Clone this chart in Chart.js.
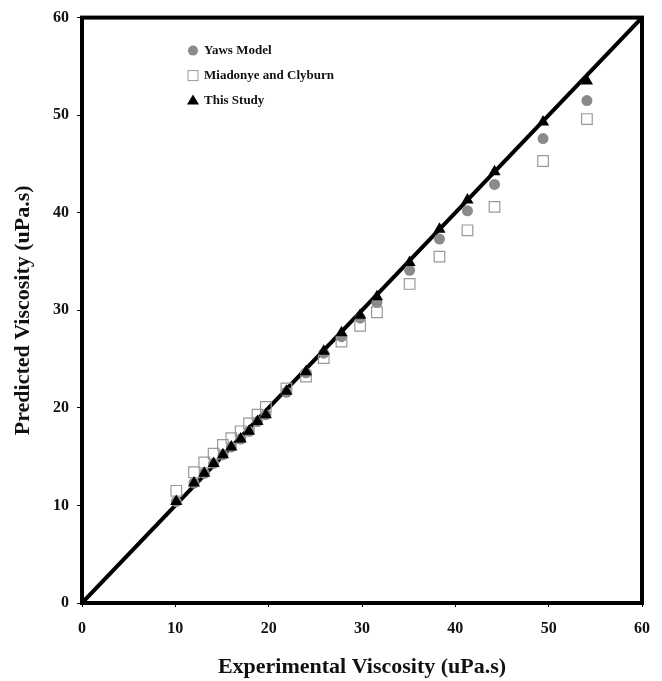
<!DOCTYPE html>
<html>
<head>
<meta charset="utf-8">
<script src="https://cdn.jsdelivr.net/npm/chart.js@4.4.1/dist/chart.umd.min.js"></script>
<style>
  html, body { margin: 0; padding: 0; background: #fff; }
  #wrap { width: 662px; height: 681px; position: relative; }
</style>
</head>
<body>
<div id="wrap"><canvas id="chart"></canvas></div>
<script>
// experimental viscosity (x) shared by all three models
const experimental = [10.1, 12.0, 13.1, 14.1, 15.1, 16.0, 17.0, 17.9, 18.8, 19.7, 21.9, 24.0, 25.9, 27.8, 29.8, 31.6, 35.1, 38.3, 41.3, 44.2, 49.4, 54.1];
const yawsModel = [10.4, 12.3, 13.3, 14.3, 15.2, 16.0, 16.8, 17.6, 18.6, 19.3, 21.6, 23.6, 25.6, 27.3, 29.2, 30.8, 34.1, 37.3, 40.2, 42.9, 47.6, 51.5];
const miadonyeClyburn = [11.5, 13.4, 14.4, 15.3, 16.2, 16.9, 17.6, 18.4, 19.3, 20.1, 22.0, 23.2, 25.1, 26.8, 28.4, 29.8, 32.7, 35.5, 38.2, 40.6, 45.3, 49.6];
const thisStudy = [10.4, 12.3, 13.3, 14.3, 15.2, 16.0, 16.8, 17.6, 18.6, 19.3, 21.7, 23.7, 25.8, 27.7, 29.5, 31.4, 34.9, 38.3, 41.3, 44.2, 49.3, 53.5];
const parityLine = [0, 60];
const axisMin = 0, axisMax = 60, axisStep = 10;

const serif = '"Liberation Serif", "Times New Roman", serif';
const toPoints = ys => experimental.map((x, i) => ({ x, y: ys[i] }));

// frame around plot area + legend drawn inside it
const framePlugin = {
  id: 'frame',
  afterDatasetsDraw(chart) {
    const { ctx, chartArea: a } = chart;
    ctx.save();
    ctx.lineWidth = 4;
    ctx.strokeStyle = '#000';
    ctx.strokeRect(a.left, a.top, a.right - a.left, a.bottom - a.top);
    ctx.restore();
  },
  afterDraw(chart) {
    const { ctx, chartArea: a } = chart;
    const mx = a.left + 111, tx = a.left + 122;
    const rows = [a.top + 33, a.top + 58, a.top + 83];
    ctx.save();
    // circle
    ctx.fillStyle = '#8a8a8a';
    ctx.beginPath();
    ctx.arc(mx, rows[0], 5, 0, Math.PI * 2);
    ctx.fill();
    // square
    ctx.strokeStyle = '#999';
    ctx.lineWidth = 1;
    ctx.strokeRect(mx - 5, rows[1] - 5, 10, 10);
    // triangle
    ctx.fillStyle = '#000';
    ctx.beginPath();
    ctx.moveTo(mx, rows[2] - 6);
    ctx.lineTo(mx + 6, rows[2] + 4);
    ctx.lineTo(mx - 6, rows[2] + 4);
    ctx.closePath();
    ctx.fill();
    ctx.fillStyle = '#111';
    ctx.font = 'bold 13px ' + serif;
    ctx.textBaseline = 'middle';
    ctx.fillText('Yaws Model', tx, rows[0]);
    ctx.fillText('Miadonye and Clyburn', tx, rows[1]);
    ctx.fillText('This Study', tx, rows[2]);
    ctx.restore();
  }
};

new Chart(document.getElementById('chart'), {
  type: 'scatter',
  data: {
    datasets: [
      {
        label: 'Parity',
        type: 'line',
        data: parityLine.map(v => ({ x: v, y: v })),
        borderColor: '#000',
        borderWidth: 4,
        pointRadius: 0,
        fill: false,
        order: 4,
      },
      {
        label: 'Yaws Model',
        data: toPoints(yawsModel),
        pointStyle: 'circle',
        pointRadius: 5.5,
        backgroundColor: '#8a8a8a',
        borderColor: '#8a8a8a',
        borderWidth: 0,
        order: 3,
      },
      {
        label: 'Miadonye and Clyburn',
        data: toPoints(miadonyeClyburn),
        pointStyle: 'rect',
        pointRadius: 7.5,
        backgroundColor: 'rgba(255,255,255,0)',
        borderColor: '#999',
        borderWidth: 1.2,
        order: 2,
      },
      {
        label: 'This Study',
        data: toPoints(thisStudy),
        pointStyle: 'triangle',
        pointRadius: 7,
        backgroundColor: '#000',
        borderColor: '#000',
        borderWidth: 0,
        order: 1,
      },
    ],
  },
  options: {
    responsive: true,
    maintainAspectRatio: false,
    animation: false,
    layout: { padding: { top: 17, right: 20, left: 0, bottom: 0 } },
    plugins: {
      legend: { display: false },
      tooltip: { enabled: false },
    },
    scales: {
      x: {
        type: 'linear',
        min: axisMin,
        max: axisMax,
        afterFit: s => { s.height = 78; },
        ticks: {
          stepSize: axisStep,
          color: '#111',
          padding: 12,
          font: { family: serif, size: 16, weight: 'bold' },
        },
        grid: { drawOnChartArea: false, drawTicks: true, tickLength: 4, color: '#000' },
        border: { display: false },
        title: {
          display: true,
          text: 'Experimental Viscosity (uPa.s)',
          color: '#111',
          font: { family: serif, size: 22, weight: 'bold' },
          padding: { top: 6, bottom: 0 },
        },
      },
      y: {
        type: 'linear',
        min: axisMin,
        max: axisMax,
        afterFit: s => { s.width = 82; },
        ticks: {
          stepSize: axisStep,
          color: '#111',
          padding: 8,
          font: { family: serif, size: 16, weight: 'bold' },
        },
        grid: { drawOnChartArea: false, drawTicks: true, tickLength: 5, color: '#000' },
        border: { display: false },
        title: {
          display: true,
          text: 'Predicted Viscosity (uPa.s)',
          color: '#111',
          font: { family: serif, size: 22, weight: 'bold' },
          padding: { top: 10, bottom: 0 },
        },
      },
    },
  },
  plugins: [framePlugin],
});
</script>
</body>
</html>
